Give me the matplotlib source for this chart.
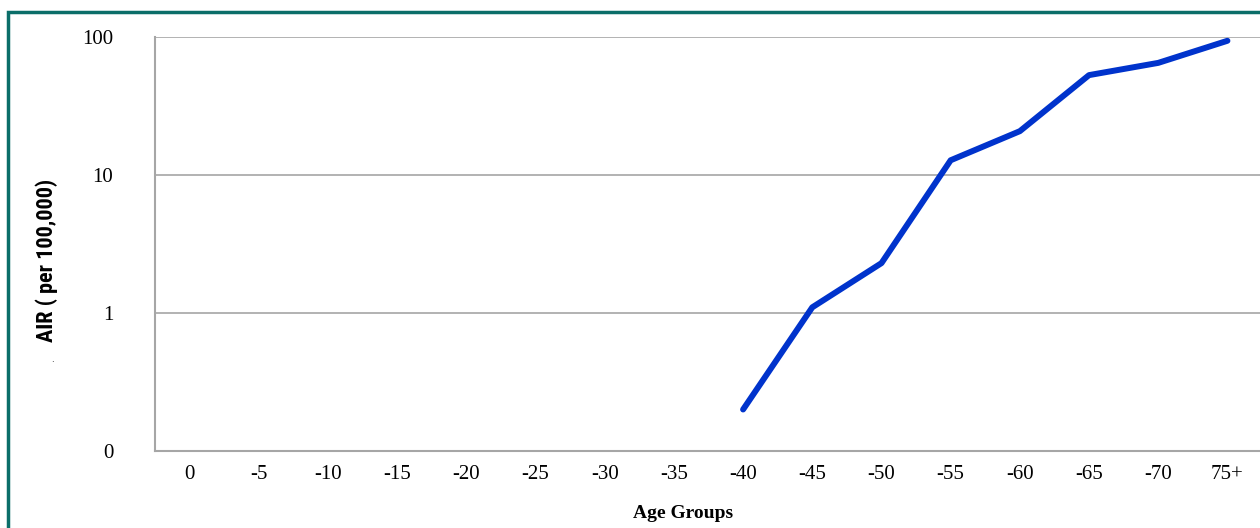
# AIR per 100,000 by age group, log scale
import numpy as np
import matplotlib
matplotlib.use('Agg')
import matplotlib.pyplot as plt
import matplotlib.patches as patches
from matplotlib.ticker import NullLocator
from matplotlib import font_manager

# data
age_groups = ['0', '-5', '-10', '-15', '-20', '-25', '-30', '-35',
              '-40', '-45', '-50', '-55', '-60', '-65', '-70', '75+']
air = [np.nan, np.nan, np.nan, np.nan, np.nan, np.nan, np.nan, np.nan,
       0.2, 1.1, 2.3, 12.8, 20.8, 53.0, 65.0, 94.0]
ytick_vals = [0.1, 1, 10, 100]
ytick_labels = ['0', '1', '10', '100']

# condensed font for the y title if one is installed
names = {f.name for f in font_manager.fontManager.ttflist}
cond_stretch = any(f.name == 'DejaVu Sans' and f.stretch == 'condensed'
                   for f in font_manager.fontManager.ttflist)
ylab_kw = dict(fontfamily='DejaVu Sans', fontweight='bold', fontsize=12.5)
for cand in ['Roboto Condensed', 'Open Sans Condensed', 'Liberation Sans Narrow',
             'Noto Sans Condensed', 'DejaVu Sans Condensed']:
    if cand in names:
        ylab_kw = dict(fontfamily=cand, fontweight='bold', fontsize=16)
        break
else:
    if cond_stretch:
        ylab_kw = dict(fontfamily='DejaVu Sans', fontstretch='condensed',
                       fontweight='bold', fontsize=14)

fig = plt.figure(figsize=(12.6, 5.28), dpi=100)
ax = fig.add_axes([0.123, 0.1458, 0.8786, 0.784])

x = np.arange(len(age_groups))
ax.plot(x, air, color='#0033CC', linewidth=4.3, solid_capstyle='round', zorder=3)

ax.set_yscale('log')
ax.set_ylim(0.1, 100)
ax.set_xlim(-0.5, len(age_groups) - 0.5)
ax.set_yticks(ytick_vals)
ax.set_yticklabels(ytick_labels)
ax.yaxis.set_minor_locator(NullLocator())
ax.set_xticks(x)
ax.set_xticklabels(age_groups)

for lab in ax.get_xticklabels() + ax.get_yticklabels():
    lab.set_fontfamily('Liberation Serif')
    lab.set_fontsize(15)
ax.tick_params(axis='both', length=0)
ax.tick_params(axis='y', pad=30)
ax.tick_params(axis='x', pad=10)

ax.grid(axis='y', color='#A6A6A6', linewidth=1.2)
ax.set_axisbelow(True)
for side in ['top', 'right']:
    ax.spines[side].set_visible(False)
for side in ['left', 'bottom']:
    ax.spines[side].set_color('#A6A6A6')
    ax.spines[side].set_linewidth(1.5)

# axis titles
fig.text(683 / 1260, 1 - 513 / 528, 'Age Groups', ha='center', va='center',
         fontfamily='Liberation Serif', fontweight='bold', fontsize=14)
fig.text(47 / 1260, 1 - 260 / 528, 'AIR ( per 100,000)', ha='center', va='center',
         rotation=90, **ylab_kw)
fig.text(52 / 1260, 1 - 360 / 528, '.', ha='center', va='center', fontsize=6)

# outer frame
frame = patches.Rectangle((8 / 1260, -0.1), 1.2, 1 - 12 / 528 + 0.1,
                          transform=fig.transFigure, fill=False,
                          edgecolor='#0B6E69', linewidth=2.5, clip_on=False)
fig.patches.append(frame)

fig.savefig('out.png', dpi=100)
